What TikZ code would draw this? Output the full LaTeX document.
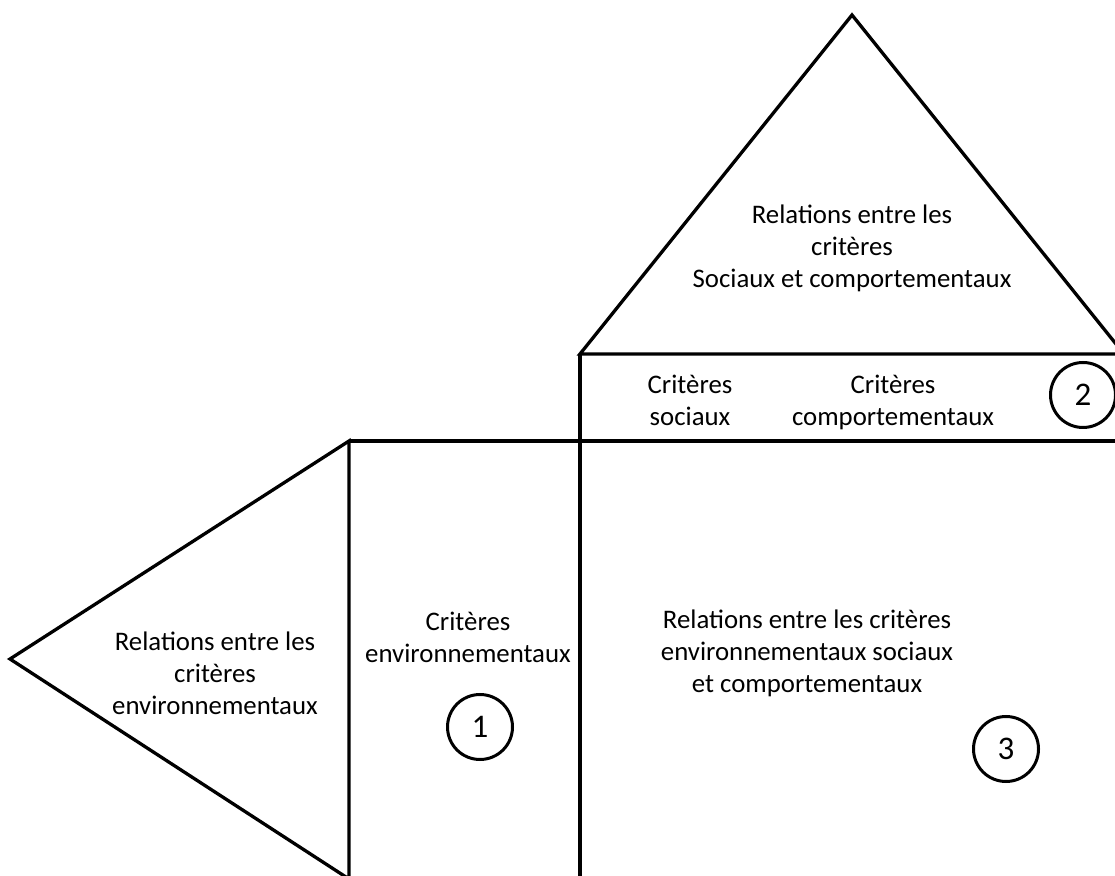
\documentclass[tikz,border=0pt]{standalone}
\usepackage{fontspec}
\setmainfont{Carlito}
\usepackage{tikz}
\usetikzlibrary{positioning}

\begin{document}
\begin{tikzpicture}[x=1pt, y=1pt, line width=3.3pt, line join=miter,
    lbl/.style={align=center, inner sep=0pt, font=\fontsize{26.8}{32}\selectfont},
    num/.style={circle, draw, line width=3pt, minimum size=65pt, inner sep=0pt, font=\fontsize{33}{33}\selectfont}]
  % cadre
  \useasboundingbox (0,0) rectangle (1115,875);
  \clip (0,0) rectangle (1115,875);
  % sommets du toit et du triangle de gauche
  \coordinate (toit) at (852,860);
  \coordinate (toitG) at (580,521);
  \coordinate (toitD) at (1124,521);
  \coordinate (pointe) at (10,216);
  \coordinate (gH) at (349,434);
  \coordinate (gB) at (349,-4);
  \coordinate (mB) at (580,-4);
  \coordinate (dH) at (1124,434);
  % Toit (critères sociaux et comportementaux)
  \draw (toitG) -- (toit) -- (toitD) -- cycle;
  \draw (toitG) -- (mB);
  \draw (gH) -- (dH);
  % Triangle de gauche
  \draw (gH) -- (pointe) -- (gB) -- cycle;
  % Textes
  \node[lbl] (relSC) at (852,627) {Relations entre les\\critères\\Sociaux et comportementaux};
  \node[lbl, anchor=north] (critS) at (690,502) {Critères\\sociaux};
  \node[lbl, anchor=north] (critC) at (893,502) {Critères\\comportementaux};
  \node[lbl] (relE) at (215,202) {Relations entre les\\critères\\environnementaux};
  \node[lbl] (critE) at (468,238) {Critères\\environnementaux};
  \node[lbl] (relESC) at (807,222) {Relations entre les critères\\environnementaux sociaux\\et comportementaux};
  % Numéros
  \node[num] (n1) at (480,148) {1};
  \node[num] (n2) at (1083,480) {2};
  \node[num] (n3) at (1006,126) {3};
\end{tikzpicture}
\end{document}
